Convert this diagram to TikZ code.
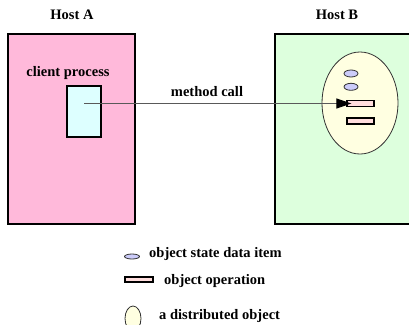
\documentclass[tikz,border=0pt]{standalone}
\usepackage{fontspec}
\setmainfont{Liberation Serif}
\usepackage{tikz}
\usetikzlibrary{arrows.meta,positioning,shapes.geometric}
\definecolor{hostpink}{RGB}{255,185,218}
\definecolor{hostgreen}{RGB}{221,255,221}
\definecolor{procblue}{RGB}{221,255,255}
\definecolor{objyel}{RGB}{255,255,225}
\definecolor{statelav}{RGB}{204,204,250}
\definecolor{oppink}{RGB}{255,221,221}
\tikzset{
  lbl/.style={font=\fontsize{14.5}{16}\selectfont\bfseries, inner sep=0pt},
  host/.style={draw=black, line width=1.6pt, rectangle, inner sep=0pt},
  proc/.style={draw=black, line width=1.2pt, fill=procblue, inner sep=0pt,
      minimum width=34pt, minimum height=51pt},
  dobj/.style={draw=black!80, line width=0.8pt, ellipse, fill=objyel, inner sep=0pt},
  sitem/.style={draw=black!80, line width=0.8pt, ellipse, fill=statelav, inner sep=0pt,
      minimum width=14pt, minimum height=7pt},
  opbox/.style={draw=black, line width=1.2pt, fill=oppink, inner sep=0pt,
      minimum width=27pt, minimum height=6pt},
  call/.style={-{Triangle[length=15pt,width=10pt,color=black]}, black!65, line width=1pt},
}
\begin{document}
\begin{tikzpicture}[x=1pt, y=-1pt]
  \clip (0,0) rectangle (409,324);
  % the two hosts
  \node[host, fill=hostpink, minimum width=127pt, minimum height=190pt] (hosta) at (71.5,129) {};
  \node[host, fill=hostgreen, minimum width=150pt, minimum height=190pt] (hostb) at (350,129) {};
  \node[lbl] (hosta-t) at (72,15) {Host A};
  \node[lbl] (hostb-t) at (337,15) {Host B};
  % client side
  \node[lbl] (proc-t) at (68,73) {client process};
  \node[proc] (proc) at (84,111.5) {};
  % the remote object and its parts
  \node[dobj, minimum width=76pt, minimum height=102pt] (obj) at (360,103) {};
  \node[sitem] (st1) at (351,73.5) {};
  \node[sitem, below=5.5pt of st1] (st2) {};
  \node[opbox] (op1) at (360.5,103.5) {};
  \node[opbox] (op2) at (360.5,121) {};
  % invocation
  \coordinate (tip) at ([xshift=5pt]op1.west);
  \coordinate (start) at (proc.center |- tip);
  \draw[call] (start) -- (tip);
  \node[lbl] (call-t) at (207,92) {method call};
  % key
  \node[sitem, minimum width=15pt, minimum height=5pt] (k1) at (132,256.5) {};
  \node[lbl, anchor=west] (k1-t) at (149,254) {object state data item};
  \node[opbox, minimum width=28pt, minimum height=5pt] (k2) at (139,279.5) {};
  \node[lbl, anchor=west] (k2-t) at (164,281) {object operation};
  \node[dobj, minimum width=16pt, minimum height=25pt] (k3) at (133,318.5) {};
  \node[lbl, anchor=west] (k3-t) at (159,316) {a distributed object};
\end{tikzpicture}
\end{document}
